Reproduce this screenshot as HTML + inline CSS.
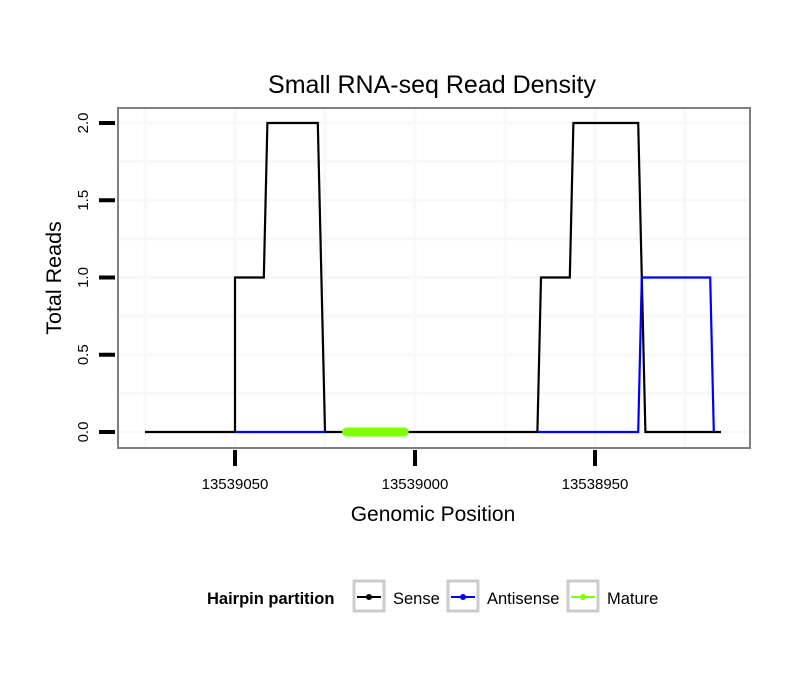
<!DOCTYPE html>
<html><head><meta charset="utf-8"><style>
body{margin:0;background:#fff;}
svg{font-family:"Liberation Sans",sans-serif;}
</style></head><body>
<svg id="chart" width="810" height="690" xmlns="http://www.w3.org/2000/svg">
<rect width="810" height="690" fill="#fff"/>
<text x="432" y="93" text-anchor="middle" font-size="25" fill="#000">Small RNA-seq Read Density</text>
<g id="grid"></g>
<g id="series"></g>
<rect x="118" y="108" width="632" height="340" fill="none" stroke="#808080" stroke-width="2"/>
<g id="axes"></g>
<text x="433" y="521" text-anchor="middle" font-size="21">Genomic Position</text>
<text transform="translate(61,278) rotate(-90)" text-anchor="middle" font-size="21.5">Total Reads</text>
<g>
<text x="207" y="604" font-size="16.5" font-weight="bold">Hairpin partition</text>
<g>
<rect x="354" y="581" width="30" height="30" fill="#fff" stroke="#ccc" stroke-width="3"/>
<line x1="357" y1="597" x2="381" y2="597" stroke="#000" stroke-width="2"/><circle cx="369" cy="597" r="3" fill="#000"/>
<text x="393" y="604" font-size="16.5">Sense</text></g>
<g>
<rect x="448" y="581" width="30" height="30" fill="#fff" stroke="#ccc" stroke-width="3"/>
<line x1="451" y1="597" x2="475" y2="597" stroke="#00f" stroke-width="2"/><circle cx="463" cy="597" r="3" fill="#00f"/>
<text x="487" y="604" font-size="16.5">Antisense</text></g>
<g>
<rect x="568" y="581" width="30" height="30" fill="#fff" stroke="#ccc" stroke-width="3"/>
<line x1="571" y1="597" x2="595" y2="597" stroke="#7fff00" stroke-width="2"/><circle cx="583" cy="597" r="3" fill="#7fff00"/>
<text x="607" y="604" font-size="16.5">Mature</text></g>
</g>
</svg>
<script>
const xTicks=[13539050,13539000,13538950];
const yTicks=[0,0.5,1.0,1.5,2.0];
const yTickLabels=["0.0","0.5","1.0","1.5","2.0"];
const senseX=[13539075,13539050,13539050,13539042,13539041,13539027,13539025,13538966,13538965,13538957,13538956,13538938,13538936,13538915];
const senseY=[0,0,1,1,2,2,0,0,1,1,2,2,0,0];
const antiX1=[13539050,13539025];
const antiY1=[0,0];
const antiX2=[13538966,13538938,13538937,13538918,13538917];
const antiY2=[0,0,1,1,0];
const matureX=[13539019,13539003];
const matureY=[0,0];
const NS="http://www.w3.org/2000/svg";
const xS=v=>235+(13539050-v)*3.6;
const yS=v=>432-v*154.5;
function mk(t,a,p){const e=document.createElementNS(NS,t);for(const k in a)e.setAttribute(k,a[k]);p.appendChild(e);return e;}
const grid=document.getElementById('grid'),axes=document.getElementById('axes'),ser=document.getElementById('series');
for(let v=13539075;v>=13538900;v-=25){const x=xS(v);if(x<120||x>748)continue;
 const l=mk('line',{x1:x,x2:x,y1:109,y2:447,stroke:'#f8f8f8','stroke-width':3},grid);
 
 }
for(let v=0;v<=2.25;v+=0.25){const y=yS(v);if(y<110)continue;
 const l=mk('line',{x1:119,x2:749,y1:y,y2:y,stroke:'#f8f8f8','stroke-width':3},grid);
 
 }
xTicks.forEach(v=>{const x=xS(v);
 const t=mk('line',{x1:x,x2:x,y1:450,y2:466,stroke:'#000','stroke-width':4},axes);
 
 
 const tx=mk('text',{x:x,y:489,'text-anchor':'middle','font-size':15},axes);tx.textContent=String(v);
 
 });
yTicks.forEach((v,i)=>{const y=yS(v);
 const t=mk('line',{x1:99,x2:115,y1:y,y2:y,stroke:'#000','stroke-width':4},axes);
 
 
 const tx=mk('text',{transform:`translate(88,${y}) rotate(-90)`,'text-anchor':'middle','font-size':15},axes);tx.textContent=yTickLabels[i];
 
 });
function path(xs,ys,col,w,name){const d=xs.map((v,i)=>(i?'L':'M')+xS(v)+','+yS(ys[i])).join('');
 const p=mk('path',{d:d,fill:'none',stroke:col,'stroke-width':w,'stroke-linecap':name==='mature-line'?'round':'butt','stroke-linejoin':'miter'},ser);
 
 }
path(senseX,senseY,'#000',2.2,'sense-line');
path(antiX1,antiY1,'#00f',2.2,'antisense-line');
path(antiX2,antiY2,'#00f',2.2,'antisense-line');
path(matureX,matureY,'#7fff00',9,'mature-line');
</script>
</body></html>
